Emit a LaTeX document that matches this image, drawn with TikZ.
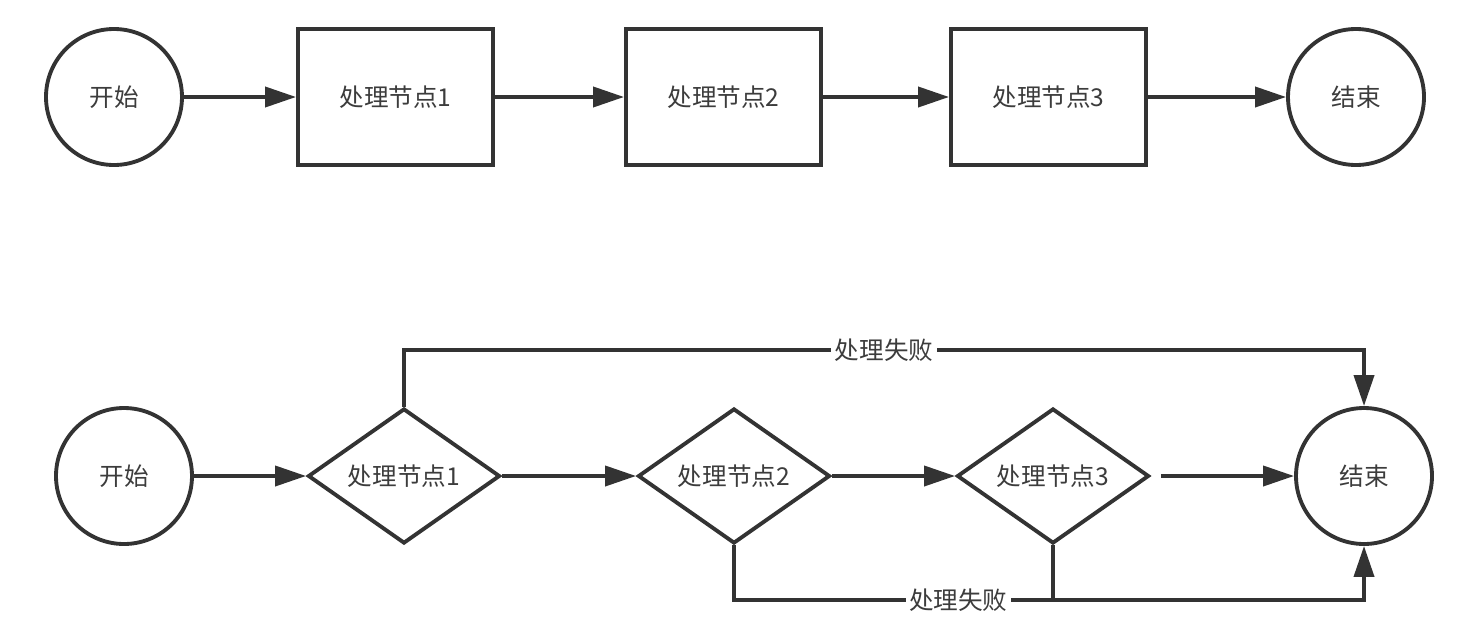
\documentclass[tikz,border=0pt]{standalone}
\usepackage{fontspec}
\setmainfont{Noto Sans CJK SC}
\usepackage{tikz}
\usetikzlibrary{arrows.meta, shapes.geometric}

\definecolor{linegray}{HTML}{333333}
\definecolor{textgray}{HTML}{3C3C3C}

\begin{document}
\begin{tikzpicture}[
    line width=2.2pt,
    >={Triangle[length=0.62cm,width=0.4cm]},
    every node/.style = {
        text=textgray,
        font=\fontsize{14}{16}\selectfont
    },
    terminal/.style = {
        circle,
        draw=linegray,
        line width=2.2pt,
        minimum size=2.72cm
    },
    block/.style = {
        rectangle,
        draw=linegray,
        line width=2.2pt,
        align=center,
        minimum height=2.72cm,
        minimum width=3.9cm
    },
    decision/.style = {
        diamond,
        draw=linegray,
        line width=2.2pt,
        aspect=1.42,
        inner sep=0pt,
        minimum width=3.84cm,
        minimum height=2.7cm
    },
    failtext/.style = {
        fill=white,
        inner sep=2pt
    }
]
\useasboundingbox (0,0) rectangle (29.3,-12.38);

% Upper flow: plain sequence
\node[terminal] (start1) at (2.28,-1.94)  {开始};
\node[block]    (box1)   at (7.91,-1.94)  {处理节点1};
\node[block]    (box2)   at (14.47,-1.94) {处理节点2};
\node[block]    (box3)   at (20.97,-1.94) {处理节点3};
\node[terminal] (end1)   at (27.12,-1.94) {结束};

\draw[->, linegray] (start1) -- (box1);
\draw[->, linegray] (box1) -- (box2);
\draw[->, linegray] (box2) -- (box3);
\draw[->, linegray] (box3) -- (end1);

% Lower flow: every step may fail
\node[terminal] (start2) at (2.48,-9.52)  {开始};
\node[decision] (dec1)   at (8.08,-9.52)  {处理节点1};
\node[decision] (dec2)   at (14.68,-9.52) {处理节点2};
\node[decision] (dec3)   at (21.06,-9.52) {处理节点3};
\node[terminal] (end2)   at (27.28,-9.52) {结束};

\draw[->, linegray] (start2) -- (dec1);
\draw[->, linegray] (dec1) -- (dec2);
\draw[->, linegray] (dec2) -- (dec3);
\draw[->, linegray, shorten <=0.2cm] (dec3) -- (end2);

% Failure routes
\coordinate (topbend) at (8.08,-7);
\coordinate (botbend) at (14.68,-12);

\draw[->, linegray] (dec1.north) -- (topbend) -| (end2.north)
    node[pos=0.25, failtext] (fail1) {处理失败};
\draw[->, linegray] (dec2.south) -- (botbend) -| (end2.south)
    node[pos=0.178, failtext] (fail2) {处理失败};
\draw[linegray] (dec3.south) -- (dec3.south |- botbend);

\end{tikzpicture}
\end{document}
